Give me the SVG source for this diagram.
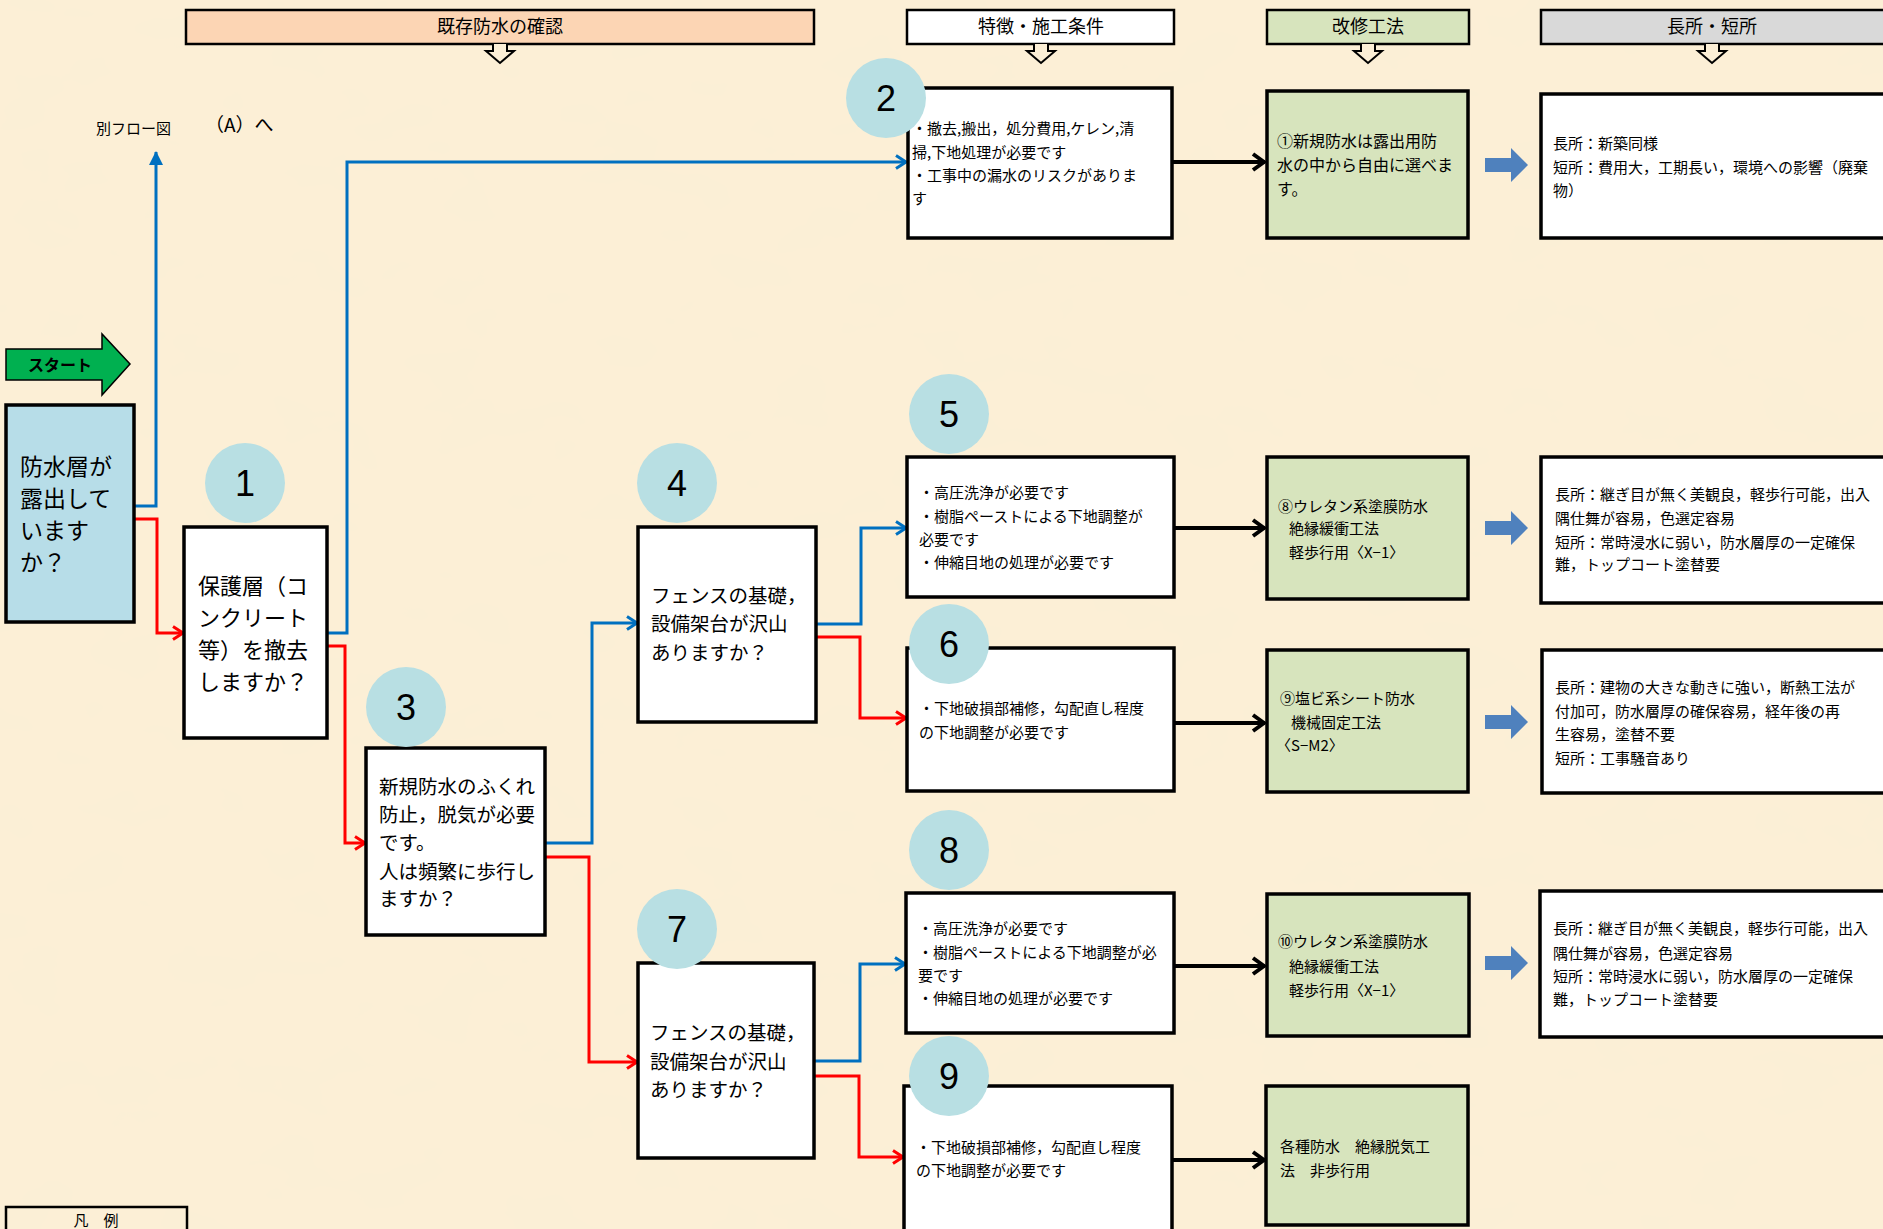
<svg xmlns="http://www.w3.org/2000/svg" width="1883" height="1229" viewBox="0 0 1883 1229">
<defs>
<style>
text{font-family:"Noto Sans CJK JP","Noto Sans",sans-serif;fill:#000}
.hd{stroke:#000;stroke-width:2.5}
.harr{fill:#fcefd6;stroke:#000;stroke-width:2}
.bx{fill:#fff;stroke:#000;stroke-width:3.5}
.gr{fill:#d7e4bd;stroke:#000;stroke-width:3.5}
.q{fill:#b7dde8;stroke:#000;stroke-width:3.5}
.cir{fill:#b8dfe3}
.num{font-family:"Liberation Sans",Arial,sans-serif;font-size:36px;text-anchor:middle}
.ht{font-size:18px;text-anchor:middle}
.s15{font-size:15px}
.s16{font-size:16px}
.s19{font-size:19.5px}
.s22{font-size:22px}
.blue{fill:none;stroke:#0070c0;stroke-width:3}
.red{fill:none;stroke:#ff0000;stroke-width:3}
.blk{fill:none;stroke:#000;stroke-width:4}
.fat{fill:#4f81bd}
</style>
<filter id="tex" x="0" y="0" width="100%" height="100%">
<feTurbulence type="fractalNoise" baseFrequency="0.012 0.02" numOctaves="3" seed="7"/>
<feColorMatrix type="matrix" values="0 0 0 0 0.95  0 0 0 0 0.86  0 0 0 0 0.68  0.9 0 0 0 -0.38"/>
</filter>
<marker id="mb" viewBox="0 0 14 16" refX="12" refY="8" markerWidth="14" markerHeight="16" markerUnits="userSpaceOnUse" orient="auto"><path d="M2,1.5 L12,8 L2,14.5" fill="none" stroke="#0070c0" stroke-width="3"/></marker>
<marker id="mr" viewBox="0 0 14 16" refX="12" refY="8" markerWidth="14" markerHeight="16" markerUnits="userSpaceOnUse" orient="auto"><path d="M2,1.5 L12,8 L2,14.5" fill="none" stroke="#ff0000" stroke-width="3"/></marker>
<marker id="mk" viewBox="0 0 16 20" refX="14" refY="10" markerWidth="16" markerHeight="20" markerUnits="userSpaceOnUse" orient="auto"><path d="M2,2 L13,10 L2,18" fill="none" stroke="#000" stroke-width="4"/></marker>
<marker id="mbf" viewBox="0 0 14 14" refX="13" refY="7" markerWidth="14" markerHeight="14" markerUnits="userSpaceOnUse" orient="auto"><path d="M0,0 L14,7 L0,14 Z" fill="#0070c0"/></marker>
</defs>
<rect x="0" y="0" width="1883" height="1229" fill="#fcefd6"/>
<rect x="0" y="0" width="1883" height="1229" filter="url(#tex)"/>

<g id="headers">
<g id="h1"><rect class="hd" x="186" y="10" width="628" height="34" fill="#fcd5b4"/><text class="ht" x="500" y="33">既存防水の確認</text><path class="harr" d="M493,44 V51 H486 L500,63 L514,51 H507 V44"/></g>
<g id="h2"><rect class="hd" x="907" y="10" width="267" height="34" fill="#fff"/><text class="ht" x="1041" y="33">特徴・施工条件</text><path class="harr" d="M1034,44 V51 H1027 L1041,63 L1055,51 H1048 V44"/></g>
<g id="h3"><rect class="hd" x="1267" y="10" width="202" height="34" fill="#d7e4bd"/><text class="ht" x="1368" y="33">改修工法</text><path class="harr" d="M1361,44 V51 H1354 L1368,63 L1382,51 H1375 V44"/></g>
<g id="h4"><rect class="hd" x="1541" y="10" width="360" height="34" fill="#d9d9d9"/><text class="ht" x="1712" y="33">長所・短所</text><path class="harr" d="M1705,44 V51 H1698 L1712,63 L1726,51 H1719 V44"/></g>
</g>

<g id="labels">
<text x="96" y="134" style="font-size:15px">別フロー図</text>
<text x="205" y="132" style="font-size:19px">（A）へ</text>
</g>

<g id="start"><path d="M6,349 H102 V334 L130,364 L102,395 V380 H6 Z" fill="#00b050" stroke="#000" stroke-width="1.5"/><text x="60" y="371" style="font-size:16px;font-weight:bold" text-anchor="middle">スタート</text></g>

<g id="connectors">
<path class="blue" d="M134,506 H156 V152" marker-end="url(#mbf)"/>
<path class="red" d="M134,519 H157 V633 H183" marker-end="url(#mr)"/>
<path class="blue" d="M327,633 H347 V162 H906" marker-end="url(#mb)"/>
<path class="red" d="M327,646 H345 V843 H365" marker-end="url(#mr)"/>
<path class="blue" d="M545,843 H592 V623 H637" marker-end="url(#mb)"/>
<path class="red" d="M545,857 H589 V1062 H637" marker-end="url(#mr)"/>
<path class="blue" d="M816,624 H861 V528 H906" marker-end="url(#mb)"/>
<path class="red" d="M816,637 H860 V718 H906" marker-end="url(#mr)"/>
<path class="blue" d="M814,1061 H860 V964 H905" marker-end="url(#mb)"/>
<path class="red" d="M814,1076 H859 V1157 H903" marker-end="url(#mr)"/>
<path class="blk" d="M1172,162 H1265" marker-end="url(#mk)"/>
<path class="blk" d="M1174,528 H1265" marker-end="url(#mk)"/>
<path class="blk" d="M1174,723 H1265" marker-end="url(#mk)"/>
<path class="blk" d="M1174,966 H1265" marker-end="url(#mk)"/>
<path class="blk" d="M1172,1160 H1265" marker-end="url(#mk)"/>
<path class="fat" d="M1485,158 H1511 V148 L1528,165 L1511,182 V172 H1485 Z"/>
<path class="fat" d="M1485,521 H1511 V511 L1528,528 L1511,545 V535 H1485 Z"/>
<path class="fat" d="M1485,715 H1511 V705 L1528,722 L1511,739 V729 H1485 Z"/>
<path class="fat" d="M1485,956 H1511 V946 L1528,963 L1511,980 V970 H1485 Z"/>
</g>

<g id="q0"><rect class="q" x="6" y="405" width="128" height="217"/>
<text style="font-size:23px"><tspan x="20" y="475">防水層が</tspan><tspan x="20" y="507">露出して</tspan><tspan x="20" y="539">います</tspan><tspan x="20" y="571">か？</tspan></text></g>

<g id="n1"><rect class="bx" x="184" y="527" width="143" height="211"/>
<text class="s22"><tspan x="198" y="594">保護層（コ</tspan><tspan x="198" y="626">ンクリート</tspan><tspan x="198" y="658">等）を撤去</tspan><tspan x="198" y="690">しますか？</tspan></text>
<circle class="cir" cx="245" cy="483" r="40"/><text class="num" x="245" y="496">1</text></g>

<g id="n3"><rect class="bx" x="366" y="748" width="179" height="187"/>
<text class="s19"><tspan x="379" y="794">新規防水のふくれ</tspan><tspan x="379" y="822">防止，脱気が必要</tspan><tspan x="379" y="850">です。</tspan><tspan x="379" y="879">人は頻繁に歩行し</tspan><tspan x="379" y="906">ますか？</tspan></text>
<circle class="cir" cx="406" cy="707" r="40"/><text class="num" x="406" y="720">3</text></g>

<g id="n4"><rect class="bx" x="638" y="527" width="178" height="195"/>
<text class="s19"><tspan x="651" y="603">フェンスの基礎，</tspan><tspan x="651" y="631">設備架台が沢山</tspan><tspan x="651" y="660">ありますか？</tspan></text>
<circle class="cir" cx="677" cy="483" r="40"/><text class="num" x="677" y="496">4</text></g>

<g id="n7"><rect class="bx" x="638" y="963" width="176" height="195"/>
<text class="s19"><tspan x="650" y="1040">フェンスの基礎，</tspan><tspan x="650" y="1069">設備架台が沢山</tspan><tspan x="650" y="1097">ありますか？</tspan></text>
<circle class="cir" cx="677" cy="929" r="40"/><text class="num" x="677" y="942">7</text></g>

<g id="n2"><rect class="bx" x="908" y="88" width="264" height="150"/>
<text class="s15"><tspan x="912" y="134">・撤去,搬出，処分費用,ケレン,清</tspan><tspan x="912" y="158">掃,下地処理が必要です</tspan><tspan x="912" y="181">・工事中の漏水のリスクがありま</tspan><tspan x="912" y="204">す</tspan></text>
<circle class="cir" cx="886" cy="98" r="40"/><text class="num" x="886" y="111">2</text></g>

<g id="m1"><rect class="gr" x="1267" y="91" width="201" height="147"/>
<text class="s16"><tspan x="1277" y="147">①新規防水は露出用防</tspan><tspan x="1277" y="171">水の中から自由に選べま</tspan><tspan x="1277" y="195">す。</tspan></text></g>

<g id="p1"><rect class="bx" x="1541" y="94" width="360" height="144"/>
<text class="s15"><tspan x="1553" y="149">長所：新築同様</tspan><tspan x="1553" y="173">短所：費用大，工期長い，環境への影響（廃棄</tspan><tspan x="1553" y="196">物）</tspan></text></g>

<g id="n5"><rect class="bx" x="907" y="457" width="267" height="140"/>
<text class="s15"><tspan x="919" y="498">・高圧洗浄が必要です</tspan><tspan x="919" y="522">・樹脂ペーストによる下地調整が</tspan><tspan x="919" y="545">必要です</tspan><tspan x="919" y="568">・伸縮目地の処理が必要です</tspan></text>
<circle class="cir" cx="949" cy="414" r="40"/><text class="num" x="949" y="427">5</text></g>

<g id="m8"><rect class="gr" x="1267" y="457" width="201" height="142"/>
<text class="s15"><tspan x="1278" y="512">⑧ウレタン系塗膜防水</tspan><tspan x="1289" y="534">絶縁緩衝工法</tspan><tspan x="1289" y="558">軽歩行用〈X−1〉</tspan></text></g>

<g id="p5"><rect class="bx" x="1541" y="457" width="360" height="146"/>
<text class="s15"><tspan x="1555" y="500">長所：継ぎ目が無く美観良，軽歩行可能，出入</tspan><tspan x="1555" y="524">隅仕舞が容易，色選定容易</tspan><tspan x="1555" y="548">短所：常時浸水に弱い，防水層厚の一定確保</tspan><tspan x="1555" y="570">難，トップコート塗替要</tspan></text></g>

<g id="n6"><rect class="bx" x="907" y="648" width="267" height="143"/>
<text class="s15"><tspan x="919" y="714">・下地破損部補修，勾配直し程度</tspan><tspan x="919" y="738">の下地調整が必要です</tspan></text>
<circle class="cir" cx="949" cy="644" r="40"/><text class="num" x="949" y="657">6</text></g>

<g id="m9"><rect class="gr" x="1267" y="650" width="201" height="142"/>
<text class="s15"><tspan x="1280" y="704">⑨塩ビ系シート防水</tspan><tspan x="1291" y="728">機械固定工法</tspan><tspan x="1276" y="751">〈S−M2〉</tspan></text></g>

<g id="p6"><rect class="bx" x="1542" y="650" width="360" height="143"/>
<text class="s15"><tspan x="1555" y="693">長所：建物の大きな動きに強い，断熱工法が</tspan><tspan x="1555" y="717">付加可，防水層厚の確保容易，経年後の再</tspan><tspan x="1555" y="740">生容易，塗替不要</tspan><tspan x="1555" y="764">短所：工事騒音あり</tspan></text></g>

<g id="n8"><rect class="bx" x="906" y="893" width="268" height="140"/>
<text class="s15"><tspan x="918" y="934">・高圧洗浄が必要です</tspan><tspan x="918" y="958">・樹脂ペーストによる下地調整が必</tspan><tspan x="918" y="981">要です</tspan><tspan x="918" y="1004">・伸縮目地の処理が必要です</tspan></text>
<circle class="cir" cx="949" cy="850" r="40"/><text class="num" x="949" y="863">8</text></g>

<g id="m10"><rect class="gr" x="1267" y="894" width="202" height="142"/>
<text class="s15"><tspan x="1278" y="947">⑩ウレタン系塗膜防水</tspan><tspan x="1289" y="972">絶縁緩衝工法</tspan><tspan x="1289" y="996">軽歩行用〈X−1〉</tspan></text></g>

<g id="p8"><rect class="bx" x="1540" y="891" width="360" height="146"/>
<text class="s15"><tspan x="1553" y="934">長所：継ぎ目が無く美観良，軽歩行可能，出入</tspan><tspan x="1553" y="959">隅仕舞が容易，色選定容易</tspan><tspan x="1553" y="982">短所：常時浸水に弱い，防水層厚の一定確保</tspan><tspan x="1553" y="1005">難，トップコート塗替要</tspan></text></g>

<g id="n9"><rect class="bx" x="904" y="1086" width="268" height="160"/>
<text class="s15"><tspan x="916" y="1153">・下地破損部補修，勾配直し程度</tspan><tspan x="916" y="1176">の下地調整が必要です</tspan></text>
<circle class="cir" cx="949" cy="1076" r="40"/><text class="num" x="949" y="1089">9</text></g>

<g id="m11"><rect class="gr" x="1266" y="1086" width="202" height="139"/>
<text class="s15"><tspan x="1280" y="1152">各種防水　絶縁脱気工</tspan><tspan x="1280" y="1176">法　非歩行用</tspan></text></g>

<g id="legend"><rect x="6" y="1207" width="181" height="40" fill="none" stroke="#000" stroke-width="2.5"/><text x="96" y="1226" style="font-size:15px" text-anchor="middle">凡　例</text></g>
</svg>
